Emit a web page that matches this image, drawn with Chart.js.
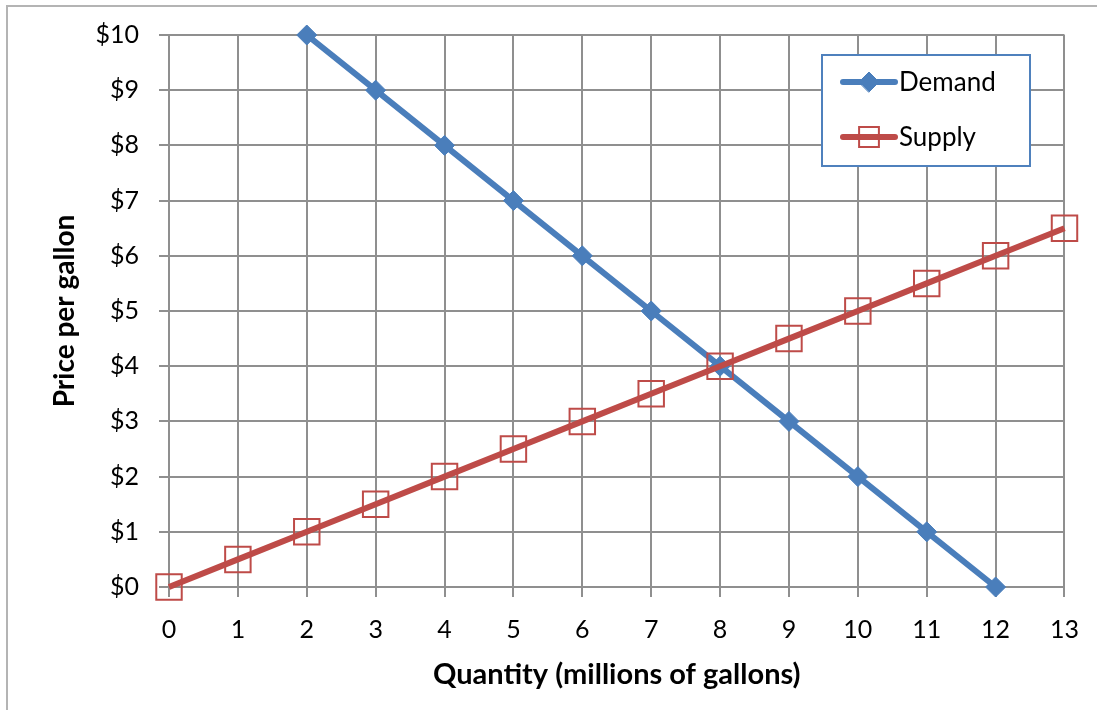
<!DOCTYPE html>
<html>
<head>
<meta charset="utf-8">
<script src="https://cdn.jsdelivr.net/npm/chart.js@4"></script>
<style>
  body { margin: 0; background: #fff; }
  #wrap { width: 1097px; height: 710px; position: relative; }
</style>
</head>
<body>
<div id="wrap"><canvas id="myChart"></canvas></div>
<script>
"use strict";
// values
const demandQty = [2, 3, 4, 5, 6, 7, 8, 9, 10, 11, 12];
const demandPrice = [10, 9, 8, 7, 6, 5, 4, 3, 2, 1, 0];
const supplyQty = [0, 1, 2, 3, 4, 5, 6, 7, 8, 9, 10, 11, 12, 13];
const supplyPrice = [0, 0.5, 1, 1.5, 2, 2.5, 3, 3.5, 4, 4.5, 5, 5.5, 6, 6.5];
const seriesNames = ["Demand", "Supply"];
const xTitle = "Quantity (millions of gallons)";
const yTitle = "Price per gallon";

const FONT = "Lato, 'Open Sans', sans-serif";
const gridColor = "#8f8f8f";

function toPoints(xs, ys) {
  return xs.map((x, i) => ({ x: x, y: ys[i] }));
}

// outer frame of the chart
const framePlugin = {
  id: "frame",
  beforeDraw(chart) {
    const c = chart.ctx;
    c.save();
    c.fillStyle = "#fff";
    c.fillRect(0, 0, chart.width, chart.height);
    c.strokeStyle = "#b4b4b4";
    c.lineWidth = 2;
    c.strokeRect(7, 6, chart.width + 10, chart.height + 10);
    c.restore();
  }
};

// boxed legend in the upper right of the plot
const boxLegend = {
  id: "boxLegend",
  afterDraw(chart) {
    const c = chart.ctx;
    const ds = chart.data.datasets;
    c.save();
    c.fillStyle = "#fff";
    c.fillRect(822, 55, 208, 111);
    c.strokeStyle = "#4f81bd";
    c.lineWidth = 2;
    c.strokeRect(822, 55, 208, 111);
    c.font = "26px " + FONT;
    c.textBaseline = "middle";
    ds.forEach((d, i) => {
      const y = 82 + i * 55;
      c.strokeStyle = d.borderColor;
      c.lineWidth = 6;
      c.lineCap = "round";
      c.beginPath();
      c.moveTo(843, y);
      c.lineTo(895, y);
      c.stroke();
      c.fillStyle = d.pointBackgroundColor;
      c.strokeStyle = d.pointBorderColor;
      c.lineWidth = d.pointBorderWidth;
      Chart.helpers.drawPoint(c, {
        pointStyle: d.pointStyle,
        radius: d.legendRadius,
        borderWidth: d.pointBorderWidth,
        rotation: 0
      }, 869, y);
      c.fillStyle = "#000";
      c.fillText(d.label, 899, y + 1);
    });
    c.restore();
  }
};

const ctx = document.getElementById("myChart");
const myChart = new Chart(ctx, {
  type: "scatter",
  data: {
    datasets: [
      {
        label: seriesNames[0],
        data: toPoints(demandQty, demandPrice),
        showLine: true,
        clip: false,
        borderColor: "#4a7ebb",
        backgroundColor: "#4a7ebb",
        borderWidth: 6,
        pointStyle: "rectRot",
        pointRadius: 10,
        legendRadius: 10,
        pointBorderWidth: 1,
        pointBackgroundColor: "#4a7ebb",
        pointBorderColor: "#4a7ebb",
        order: 1
      },
      {
        label: seriesNames[1],
        data: toPoints(supplyQty, supplyPrice),
        showLine: true,
        clip: false,
        borderColor: "#be4b48",
        backgroundColor: "#be4b48",
        borderWidth: 6,
        pointStyle: "rect",
        pointRadius: 18,
        legendRadius: 14,
        pointBorderWidth: 2,
        pointBackgroundColor: "rgba(255,255,255,0)",
        pointBorderColor: "#be4b48",
        order: 0
      }
    ]
  },
  options: {
    responsive: true,
    maintainAspectRatio: false,
    animation: false,
    layout: { padding: { top: 35, right: 30, left: 0, bottom: 0 } },
    plugins: {
      legend: { display: false },
      tooltip: { enabled: false }
    },
    scales: {
      x: {
        type: "linear",
        min: 0,
        max: 13,
        afterFit(scale) { scale.height = 123; },
        ticks: {
          stepSize: 1,
          color: "#000",
          padding: 18,
          font: { family: FONT, size: 25 }
        },
        grid: { color: gridColor, lineWidth: 2, tickLength: 10 },
        border: { color: gridColor, width: 2 },
        title: {
          display: true,
          text: xTitle,
          color: "#000",
          font: { family: FONT, size: 29, weight: "bold" },
          padding: { top: 0, bottom: 18 }
        }
      },
      y: {
        type: "linear",
        min: 0,
        max: 10,
        afterFit(scale) { scale.width = 169; },
        ticks: {
          stepSize: 1,
          color: "#000",
          padding: 20,
          font: { family: FONT, size: 25 },
          callback: (v) => "$" + v
        },
        grid: { color: gridColor, lineWidth: 2, tickLength: 10 },
        border: { color: gridColor, width: 2 },
        title: {
          display: true,
          text: yTitle,
          color: "#000",
          font: { family: FONT, size: 28, weight: "bold" },
          padding: { top: 48, bottom: 0 }
        }
      }
    }
  },
  plugins: [framePlugin, boxLegend]
});
</script>
</body>
</html>
